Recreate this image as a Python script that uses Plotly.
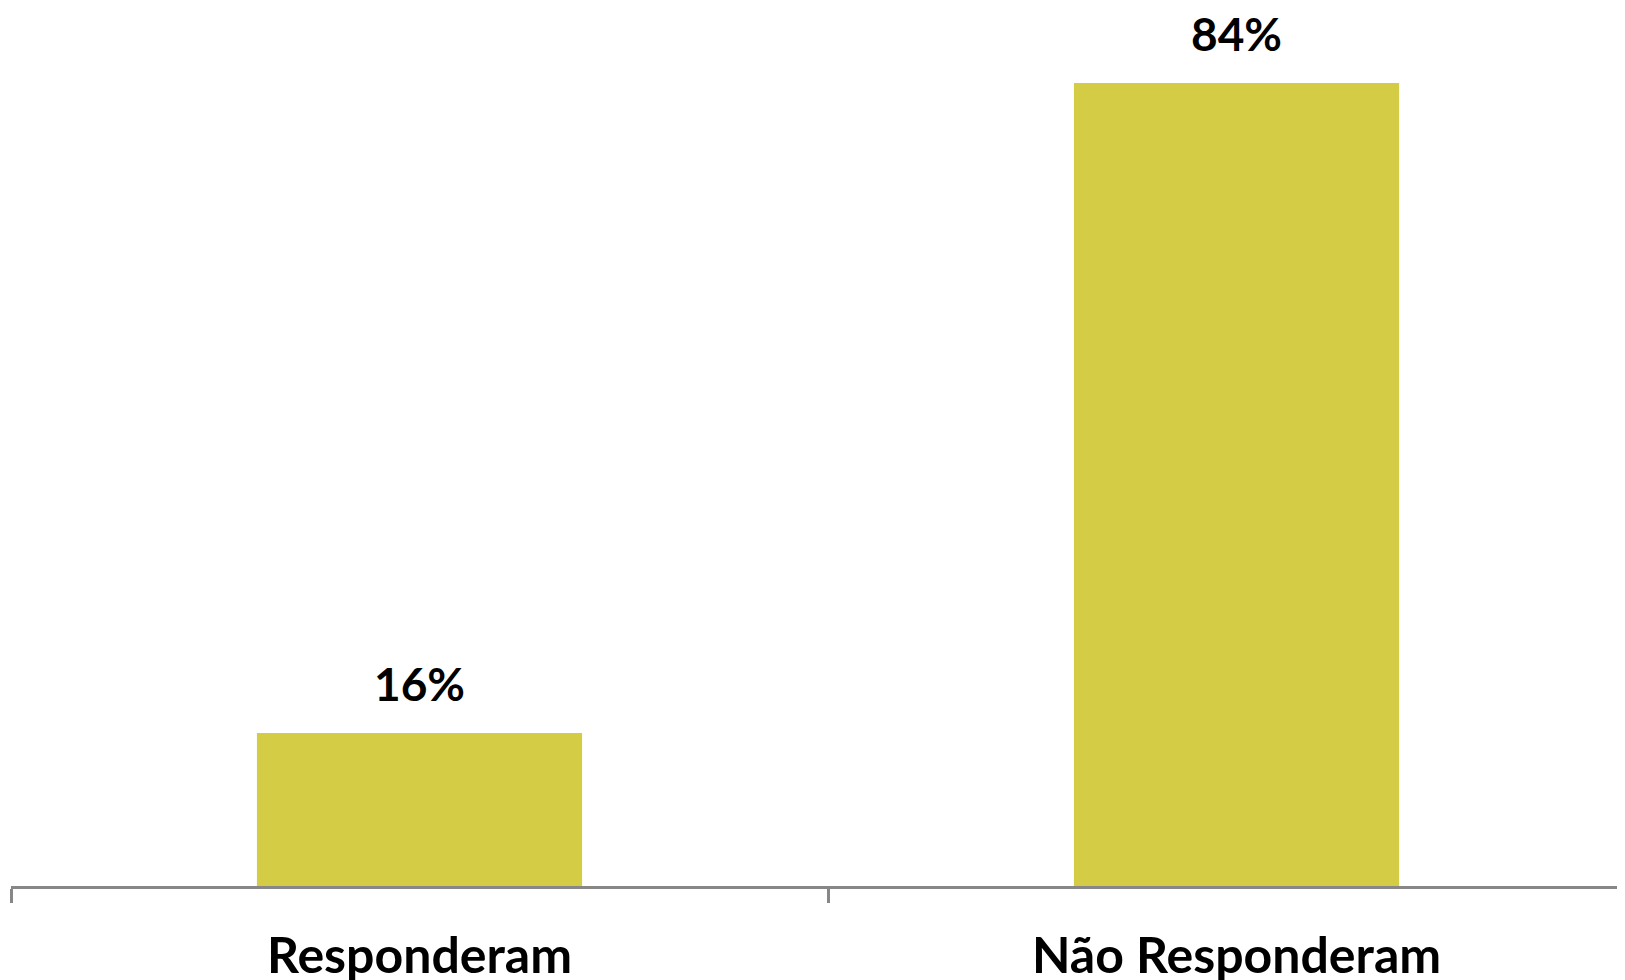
import plotly.graph_objects as go

categories = ["Responderam", "Não Responderam"]
values = [16, 84]
labels = ["16%", "84%"]

bar_color = "#D5CC46"
font_family = "Lato, 'Open Sans', sans-serif"

fig = go.Figure()
fig.add_trace(go.Bar(
    x=categories,
    y=values,
    width=0.398,
    marker=dict(color=bar_color, line=dict(width=0)),
    hoverinfo="skip",
))

for c, v, t in zip(categories, values, labels):
    fig.add_annotation(
        x=c, y=v, text=f"<b>{t}</b>", showarrow=False,
        yanchor="bottom", yshift=20,
        font=dict(family=font_family, size=46, color="#000000"),
    )

fig.update_layout(
    width=1617, height=972,
    margin=dict(l=3, r=0, t=0, b=94),
    paper_bgcolor="white", plot_bgcolor="white",
    showlegend=False,
    xaxis=dict(
        range=[-0.5, -0.5 + 1614 / 817],
        showline=True, linecolor="#878787", linewidth=3,
        ticks="outside", tickson="boundaries", ticklen=14,
        tickcolor="#878787", tickwidth=3,
        showgrid=False, zeroline=False, automargin=False,
        tickfont=dict(family=font_family, size=50, color="#000000"),
        ticklabelstandoff=24,
        tickprefix="<b>", ticksuffix="</b>",
    ),
    yaxis=dict(
        range=[0, 878 / 9.56], visible=False, showgrid=False, zeroline=False,
    ),
)

fig.write_html("out.html")
